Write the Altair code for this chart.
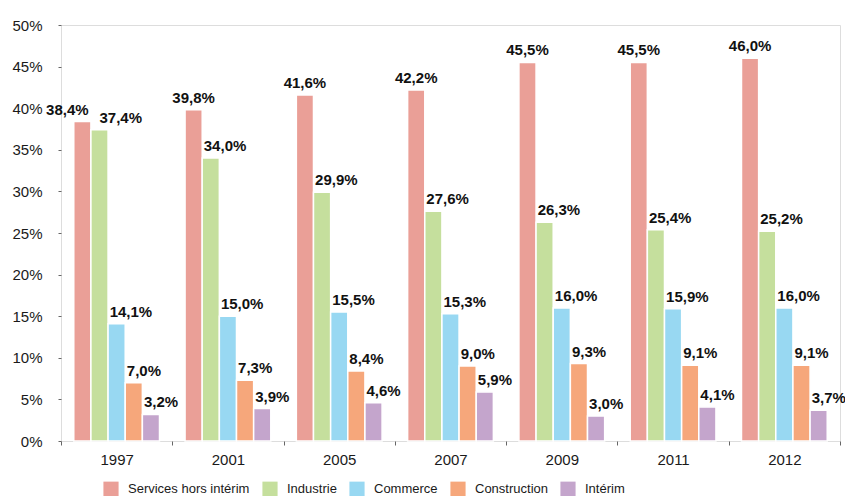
import altair as alt
import pandas as pd

years = ["1997", "2001", "2005", "2007", "2009", "2011", "2012"]
categories = ["Services hors intérim", "Industrie", "Commerce", "Construction", "Intérim"]
services = [38.4, 39.8, 41.6, 42.2, 45.5, 45.5, 46.0]
industrie = [37.4, 34.0, 29.9, 27.6, 26.3, 25.4, 25.2]
commerce = [14.1, 15.0, 15.5, 15.3, 16.0, 15.9, 16.0]
construction = [7.0, 7.3, 8.4, 9.0, 9.3, 9.1, 9.1]
interim = [3.2, 3.9, 4.6, 5.9, 3.0, 4.1, 3.7]
colors = ["#EA9F97", "#C5DF9D", "#98D8F2", "#F6A77B", "#C4A5CC"]

rows = []
for cat, vals in zip(categories, [services, industrie, commerce, construction, interim]):
    for yr, v in zip(years, vals):
        rows.append({"year": yr, "cat": cat, "value": v,
                     "label": f"{v:.1f}".replace(".", ",") + "%"})
df = pd.DataFrame(rows)

FONT = "Liberation Sans, Arial, sans-serif"

x = alt.X("year:N", sort=years, scale=alt.Scale(paddingInner=0, paddingOuter=0),
          axis=alt.Axis(title=None, labelAngle=0, tickBand="extent", domain=False,
                        tickSize=4, tickColor="#666", labelFontSize=15, labelFont=FONT,
                        labelPadding=7, labelColor="#1a1a1a"))
xo = alt.XOffset("cat:N", sort=categories,
                 scale=alt.Scale(domain=categories, paddingInner=0, paddingOuter=0.745))
y = alt.Y("value:Q", scale=alt.Scale(domain=[0, 50]),
          axis=alt.Axis(title=None, values=list(range(0, 51, 5)),
                        labelExpr="datum.value + '%'", domain=False, grid=False,
                        tickSize=3, tickColor="#666", labelPadding=16, labelFontSize=15,
                        labelFont=FONT, labelColor="#1a1a1a"))
color = alt.Color("cat:N", sort=categories,
                  scale=alt.Scale(domain=categories, range=colors),
                  legend=alt.Legend(title=None, orient="none", legendX=42, legendY=456,
                                    direction="horizontal", columns=5,
                                    symbolType="square", symbolSize=230,
                                    symbolStrokeWidth=0, symbolOpacity=1,
                                    labelFontSize=13, labelFont=FONT,
                                    labelColor="#1a1a1a", columnPadding=12,
                                    labelOffset=9))

base = alt.Chart(df)
bars = base.mark_bar(stroke="white", strokeWidth=1.5).encode(
    x=x, xOffset=xo, y=y, color=color)

tenc = dict(x=x, xOffset=xo, y=y, text="label:N")
tstyle = dict(font=FONT, fontSize=15, fontWeight="bold", color="#111", baseline="bottom", dy=-4)

t_serv = base.transform_filter(
    (alt.datum.cat == categories[0]) & (alt.datum.year != "1997")
).mark_text(align="center", **tstyle).encode(**tenc)
t_serv97 = base.transform_filter(
    (alt.datum.cat == categories[0]) & (alt.datum.year == "1997")
).mark_text(align="center", dx=-15, **tstyle).encode(**tenc)
t_ind97 = base.transform_filter(
    (alt.datum.cat == categories[1]) & (alt.datum.year == "1997")
).mark_text(align="left", dx=0, **tstyle).encode(**tenc)
t_other = base.transform_filter(
    (alt.datum.cat != categories[0]) & ~((alt.datum.cat == categories[1]) & (alt.datum.year == "1997"))
).mark_text(align="left", dx=-7, **tstyle).encode(**tenc)

chart = alt.layer(bars, t_serv, t_serv97, t_ind97, t_other).properties(
    width=779, height=416,
    autosize=alt.AutoSizeParams(type="none"),
    padding={"left": 53, "top": 17, "right": 5, "bottom": 55},
).configure_view(fill="#F0F1F3", stroke=None).configure(background="white")

chart.save("out.html", embed_options={"renderer": "svg", "actions": False})
